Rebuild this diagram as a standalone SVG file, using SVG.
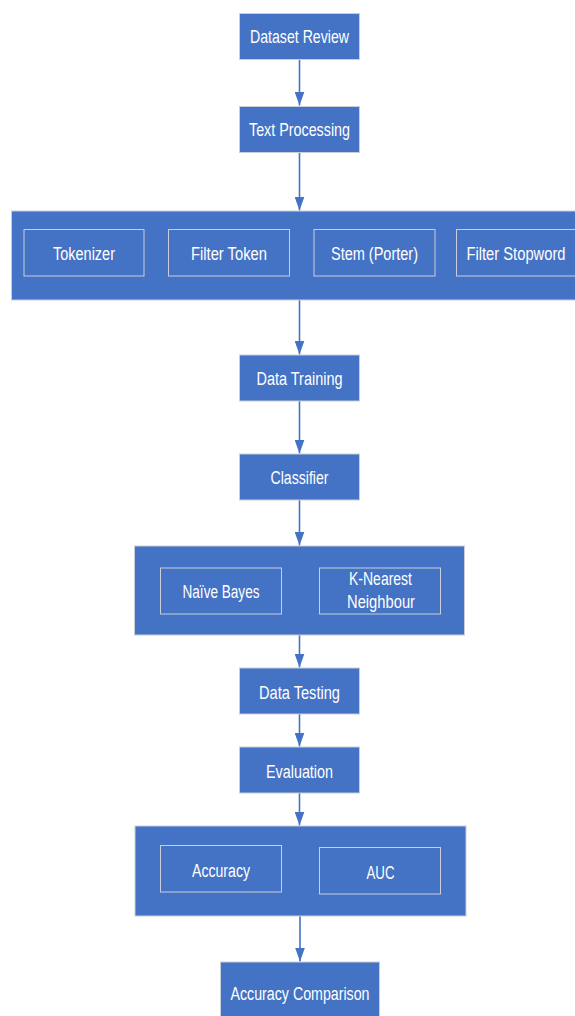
<svg xmlns="http://www.w3.org/2000/svg" width="575" height="1016" viewBox="0 0 575 1016">
<defs>
<style>
.box{fill:#4472C4;stroke:#c9ced8;stroke-width:1}
.inner{fill:#4472C4;stroke:#c9ced8;stroke-width:1}
.lbl{fill:#ffffff;font-family:"Liberation Sans",Arial,sans-serif;font-size:18px;text-anchor:middle}
.conn{stroke:#4472C4;stroke-width:1.6;fill:none;marker-end:url(#arr)}
</style>
<marker id="arr" markerUnits="userSpaceOnUse" viewBox="0 0 14 10" markerWidth="14" markerHeight="10" refX="14" refY="5" orient="auto">
<path d="M0,0 L14,5 L0,10 z" fill="#4472C4"/>
</marker>
</defs>
<rect width="575" height="1016" fill="#ffffff"/>
<g id="connectors">
<line class="conn" x1="299.5" y1="59.5" x2="299.5" y2="105.5"/>
<line class="conn" x1="299.5" y1="152.5" x2="299.5" y2="210.5"/>
<line class="conn" x1="299.5" y1="300" x2="299.5" y2="354.5"/>
<line class="conn" x1="299.5" y1="401" x2="299.5" y2="453.5"/>
<line class="conn" x1="299.5" y1="500" x2="299.5" y2="545.5"/>
<line class="conn" x1="299.5" y1="635" x2="299.5" y2="667.5"/>
<line class="conn" x1="299.5" y1="714" x2="299.5" y2="746.5"/>
<line class="conn" x1="299.5" y1="793" x2="299.5" y2="825.5"/>
<line class="conn" x1="300" y1="916" x2="300" y2="961.5"/>
</g>
<g id="dataset-review">
<rect class="box" x="239.5" y="13.5" width="120" height="46"/>
<text class="lbl" x="299.5" y="43" textLength="99" lengthAdjust="spacingAndGlyphs">Dataset Review</text>
</g>
<g id="text-processing">
<rect class="box" x="239.5" y="106.5" width="120" height="46"/>
<text class="lbl" x="299.5" y="136" textLength="101" lengthAdjust="spacingAndGlyphs">Text Processing</text>
</g>
<g id="text-processing-steps">
<rect class="box" x="11.5" y="211" width="570" height="89"/>
<g id="tokenizer">
<rect class="inner" x="24" y="229.5" width="120" height="46.5"/>
<text class="lbl" x="84" y="260" textLength="62" lengthAdjust="spacingAndGlyphs">Tokenizer</text>
</g>
<g id="filter-token">
<rect class="inner" x="168.5" y="229.5" width="121" height="46.5"/>
<text class="lbl" x="229" y="260" textLength="76" lengthAdjust="spacingAndGlyphs">Filter Token</text>
</g>
<g id="stem-porter">
<rect class="inner" x="314" y="229.5" width="121" height="46.5"/>
<text class="lbl" x="374.5" y="260" textLength="87" lengthAdjust="spacingAndGlyphs">Stem (Porter)</text>
</g>
<g id="filter-stopword">
<rect class="inner" x="456.5" y="229.5" width="121" height="46.5"/>
<text class="lbl" x="516" y="260" textLength="99" lengthAdjust="spacingAndGlyphs">Filter Stopword</text>
</g>
</g>
<g id="data-training">
<rect class="box" x="239.5" y="355" width="120" height="46"/>
<text class="lbl" x="299.5" y="385" textLength="86" lengthAdjust="spacingAndGlyphs">Data Training</text>
</g>
<g id="classifier">
<rect class="box" x="239.5" y="454" width="120" height="46"/>
<text class="lbl" x="299.5" y="484" textLength="58" lengthAdjust="spacingAndGlyphs">Classifier</text>
</g>
<g id="classifiers">
<rect class="box" x="134.5" y="546" width="330" height="89"/>
<g id="naive-bayes">
<rect class="inner" x="160.5" y="568" width="121" height="46"/>
<text class="lbl" x="221" y="598" textLength="77" lengthAdjust="spacingAndGlyphs">Naïve Bayes</text>
</g>
<g id="knn">
<rect class="inner" x="319.5" y="568" width="121" height="46"/>
<text class="lbl" x="380.5" y="585" textLength="63" lengthAdjust="spacingAndGlyphs">K-Nearest</text>
<text class="lbl" x="381" y="608" textLength="68" lengthAdjust="spacingAndGlyphs">Neighbour</text>
</g>
</g>
<g id="data-testing">
<rect class="box" x="239.5" y="668" width="120" height="46"/>
<text class="lbl" x="299.5" y="699" textLength="81" lengthAdjust="spacingAndGlyphs">Data Testing</text>
</g>
<g id="evaluation">
<rect class="box" x="239.5" y="747" width="120" height="46"/>
<text class="lbl" x="299.5" y="778" textLength="67" lengthAdjust="spacingAndGlyphs">Evaluation</text>
</g>
<g id="metrics">
<rect class="box" x="135" y="826" width="331" height="90"/>
<g id="accuracy">
<rect class="inner" x="160.5" y="845.5" width="121" height="46.5"/>
<text class="lbl" x="221" y="877" textLength="58" lengthAdjust="spacingAndGlyphs">Accuracy</text>
</g>
<g id="auc">
<rect class="inner" x="319.5" y="847.5" width="121" height="46.5"/>
<text class="lbl" x="380.5" y="879" textLength="28" lengthAdjust="spacingAndGlyphs">AUC</text>
</g>
</g>
<g id="accuracy-comparison">
<rect class="box" x="220.5" y="962" width="159" height="60"/>
<text class="lbl" x="300" y="1000" textLength="139" lengthAdjust="spacingAndGlyphs">Accuracy Comparison</text>
</g>
</svg>
